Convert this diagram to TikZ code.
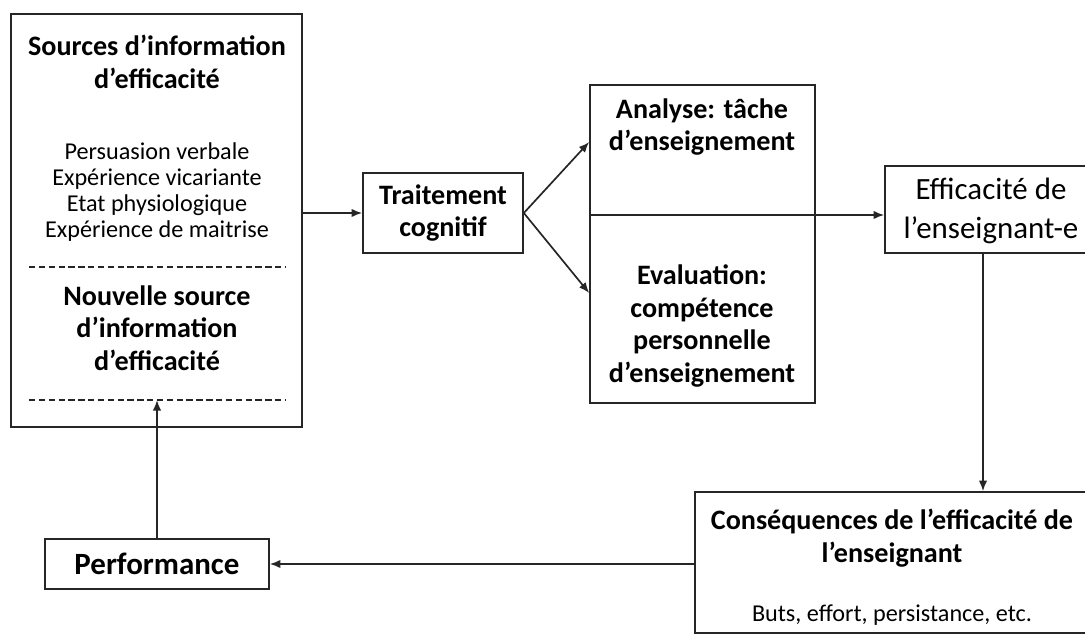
\documentclass[tikz,border=0pt]{standalone}
\usepackage{fontspec}
\setmainfont{Carlito}
\usetikzlibrary{arrows.meta}
\newcommand\pxu{0.025cm}
\begin{document}
\begin{tikzpicture}[x=0.025cm,y=-0.025cm,
  box/.style={draw=black!85,line width=1.2pt,inner sep=0pt},
  arr/.style={-{Latex[length=7.5pt,width=6pt]},line width=1.2pt,draw=black!85},
  plainline/.style={line width=1.2pt,draw=black!85},
  dashline/.style={line width=1.2pt,draw=black!85,dash pattern=on 4.5pt off 2.5pt},
  txt/.style={align=center,inner sep=0pt},
  bt/.style={txt,font=\fontsize{20}{23}\selectfont\bfseries},
  nt/.style={txt,font=\fontsize{17.2}{18.6}\selectfont}]
\useasboundingbox (0,0) rectangle (1085,635);
\clip (0,0) rectangle (1085,635);
\fill[white] (0,0) rectangle (1085,635);
% helper coordinates
\coordinate (ya) at (0,142);
\coordinate (yb) at (0,293);
\coordinate (divy) at (0,215);
\coordinate (downx) at (983,0);
% left box
\node[box,minimum width=291*\pxu,minimum height=413*\pxu] (src) at (156.5,220.5) {};
\node[bt] (srctitle) at (157,62) {Sources d’information\\d’efficacité};
\node[nt] (srclist) at (157,192) {Persuasion verbale\\Expérience vicariante\\Etat physiologique\\Expérience de maitrise};
\draw[dashline] (29,267) -- (285,267);
\node[bt] (newsrc) at (157,328) {Nouvelle source\\d’information\\d’efficacité};
\draw[dashline] (29,400) -- (285,400);
\coordinate (dash2) at (157,400);
% traitement
\node[box,bt,minimum width=160*\pxu,minimum height=80*\pxu] (trait) at (443,213) {Traitement\\cognitif};
% analyse / evaluation
\node[box,minimum width=225*\pxu,minimum height=318*\pxu] (anal) at (702.5,244) {};
\draw[plainline] (anal.west |- divy) -- (anal.east |- divy);
\node[bt] (analt) at (702,127) {Analyse: tâche\\d’enseignement};
\node[bt] (evalt) at (702,326) {Evaluation:\\compétence\\personnelle\\d’enseignement};
% efficacite (right edge lies outside the picture)
\node[box,minimum width=240*\pxu,minimum height=87*\pxu] (eff) at (1005,209.5) {};
\node[txt,font=\fontsize{22}{27.5}\selectfont] (efft) at (991,211) {Efficacité de\\l’enseignant-e};
% consequences
\node[box,minimum width=420*\pxu,minimum height=141*\pxu] (cons) at (905,562.5) {};
\node[bt] (const) at (892,538) {Conséquences de l’efficacité de\\l’enseignant};
\node[nt] (consl) at (892,615) {Buts, effort, persistance, etc.};
% performance
\node[box,txt,font=\fontsize{22}{25}\selectfont\bfseries,minimum width=224*\pxu,minimum height=50*\pxu] (perf) at (157,564) {Performance};
% connectors
\draw[arr] (src.east |- trait.west) -- (trait.west);
\draw[arr] (trait.east) -- (anal.west |- ya);
\draw[arr] (trait.east) -- (anal.west |- yb);
\draw[arr] (anal.east |- divy) -- (eff.west |- divy);
\draw[arr] (downx |- eff.south) -- (downx |- cons.north);
\draw[arr] (cons.west |- perf.east) -- (perf.east);
\draw[arr] (perf.north) -- (dash2);
\end{tikzpicture}
\end{document}
